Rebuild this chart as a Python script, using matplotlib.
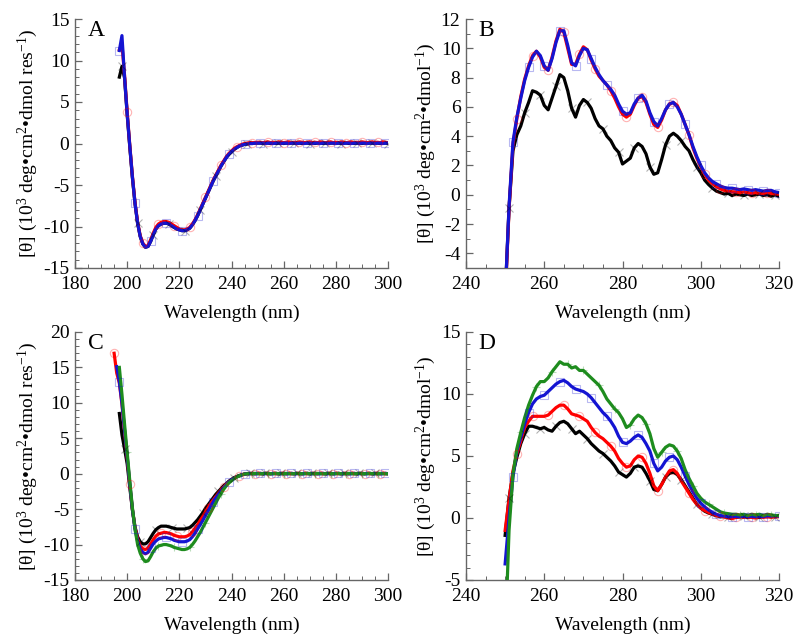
import numpy as np
import matplotlib
matplotlib.use("Agg")
import matplotlib.pyplot as plt
from matplotlib.ticker import MultipleLocator

plt.rcParams['font.family'] = ['Liberation Serif', 'DejaVu Serif']
plt.rcParams['mathtext.fontset'] = 'custom'
plt.rcParams['mathtext.rm'] = 'Liberation Serif'
plt.rcParams['mathtext.it'] = 'Liberation Serif:italic'
plt.rcParams['axes.unicode_minus'] = False

# ---------------- Panel A (far-UV) ----------------
wl_A = np.arange(197, 301)
black_A = [8.0, 9.3, 7.9, 3.5, -0.4, -4.1, -7.2, -9.6, -11.2, -12.1, -12.5, -12.4, -11.8, -11.0,
           -10.3, -9.9, -9.7, -9.6, -9.6, -9.7, -9.9, -10.1, -10.3, -10.4, -10.5, -10.5, -10.4,
           -10.2, -9.8, -9.3, -8.7, -8.0, -7.3, -6.6, -5.9, -5.2, -4.5, -3.9, -3.3, -2.7, -2.2,
           -1.7, -1.3, -1.0, -0.7, -0.5, -0.3, -0.2, -0.1, -0.05, 0.0, 0.0, 0.05, 0.05,
           0.05, 0.0, 0.05, 0.05, 0.0, 0.05, 0.0, 0.05, 0.05, 0.0, 0.05, 0.0, 0.05, 0.05, 0.0,
           0.05, 0.0, 0.05, 0.05, 0.0, 0.05, 0.0, 0.05, 0.05, 0.0, 0.05, 0.0, 0.05, 0.05, 0.0,
           0.05, 0.0, 0.05, 0.05, 0.0, 0.05, 0.0, 0.05, 0.05, 0.0, 0.05, 0.0, 0.05, 0.05, 0.0,
           0.05, 0.0, 0.05, 0.05, 0.0]
red_A = [11.3, 12.0, 8.2, 3.8, -0.2, -3.9, -7.1, -9.5, -11.1, -12.0, -12.4, -12.3, -11.6, -10.8,
         -10.1, -9.7, -9.5, -9.4, -9.4, -9.5, -9.7, -9.9, -10.1, -10.3, -10.4, -10.4, -10.3,
         -10.1, -9.7, -9.2, -8.6, -7.9, -7.2, -6.5, -5.8, -5.1, -4.4, -3.8, -3.2, -2.6, -2.1,
         -1.6, -1.2, -0.9, -0.6, -0.4, -0.25, -0.1, 0.0, 0.05, 0.1, 0.1, 0.1, 0.15,
         0.15, 0.1, 0.15, 0.2, 0.1, 0.15, 0.1, 0.2, 0.15, 0.1, 0.15, 0.2, 0.1, 0.15, 0.1,
         0.2, 0.15, 0.1, 0.15, 0.2, 0.1, 0.15, 0.1, 0.2, 0.15, 0.1, 0.15, 0.2, 0.1, 0.15,
         0.1, 0.2, 0.15, 0.1, 0.15, 0.2, 0.1, 0.15, 0.1, 0.2, 0.15, 0.1, 0.15, 0.2, 0.1,
         0.15, 0.1, 0.2, 0.15, 0.1]
blue_A = [11.2, 13.0, 8.0, 3.6, -0.3, -4.0, -7.2, -9.6, -11.2, -12.1, -12.5, -12.4, -11.8, -11.0,
          -10.3, -9.9, -9.7, -9.6, -9.6, -9.7, -9.9, -10.1, -10.3, -10.4, -10.5, -10.5, -10.4,
          -10.2, -9.8, -9.3, -8.7, -8.0, -7.3, -6.6, -5.9, -5.2, -4.5, -3.9, -3.3, -2.7, -2.2,
          -1.7, -1.3, -1.0, -0.7, -0.5, -0.3, -0.2, -0.1, -0.05, 0.0, 0.0, 0.05, 0.05,
          0.05, 0.05, 0.0, 0.05, 0.05, 0.0, 0.05, 0.05, 0.0, 0.05, 0.05, 0.0, 0.05, 0.05, 0.0,
          0.05, 0.05, 0.0, 0.05, 0.05, 0.0, 0.05, 0.05, 0.0, 0.05, 0.05, 0.0, 0.05, 0.05, 0.0,
          0.05, 0.05, 0.0, 0.05, 0.05, 0.0, 0.05, 0.05, 0.0, 0.05, 0.05, 0.0, 0.05, 0.05, 0.0,
          0.05, 0.05, 0.0, 0.05, 0.05]

# ---------------- Panel B (near-UV) ----------------
wl_B = np.arange(250, 321)
black_B = [-7.0, -0.9, 3.0, 4.1, 4.7, 5.6, 6.3, 7.1, 7.0, 6.8, 6.1, 5.8, 6.6, 7.4, 8.2, 8.0, 7.1,
           5.9, 5.3, 6.1, 6.5, 6.3, 5.9, 5.2, 4.7, 4.5, 4.0, 3.7, 3.2, 2.9, 2.1, 2.3, 2.5, 3.2,
           3.5, 3.3, 2.8, 1.9, 1.4, 1.5, 2.4, 3.4, 4.0, 4.2, 4.0, 3.7, 3.3, 3.0, 2.4, 1.9, 1.5,
           1.0, 0.7, 0.45, 0.25, 0.15, 0.05, 0.1, -0.05, 0.05, 0.0, -0.05, 0.05, -0.05, 0.0,
           0.05, -0.05, 0.0, -0.1, 0.0, -0.1]
red_B = [-7.2, -1.0, 3.4, 5.2, 6.7, 7.9, 8.8, 9.5, 9.8, 9.4, 8.7, 8.5, 9.4, 10.5, 11.3, 11.1,
         10.0, 8.9, 8.9, 9.6, 10.1, 9.9, 9.2, 8.6, 8.1, 7.8, 7.5, 7.1, 6.6, 6.0, 5.5, 5.3, 5.5,
         6.1, 6.6, 6.7, 6.3, 5.5, 4.8, 4.6, 5.1, 5.8, 6.2, 6.3, 6.1, 5.5, 4.8, 4.1, 3.2, 2.5,
         1.9, 1.4, 1.0, 0.75, 0.55, 0.4, 0.3, 0.25, 0.2, 0.2, 0.15, 0.2, 0.15, 0.1, 0.15, 0.1,
         0.1, 0.15, 0.1, 0.05, 0.05]
blue_B = [-7.0, -0.8, 3.6, 5.3, 6.6, 7.8, 8.7, 9.4, 9.8, 9.5, 8.8, 8.5, 9.3, 10.4, 11.2, 11.2,
          10.2, 9.0, 8.8, 9.5, 10.0, 9.9, 9.3, 8.7, 8.2, 7.8, 7.5, 7.2, 6.8, 6.2, 5.7, 5.5, 5.6,
          6.2, 6.6, 6.8, 6.4, 5.6, 5.0, 4.7, 5.2, 5.8, 6.2, 6.3, 6.0, 5.5, 4.8, 4.1, 3.3, 2.6,
          2.0, 1.5, 1.15, 0.9, 0.75, 0.6, 0.5, 0.45, 0.45, 0.4, 0.35, 0.4, 0.35, 0.3, 0.35, 0.3,
          0.25, 0.3, 0.3, 0.2, 0.15]

# ---------------- Panel C (far-UV, four samples) ----------------
wl_C = np.arange(195, 301)
nan = np.nan
black_C = [nan, nan, 8.5, 5.5, 3.5, 1.4, -1.9, -5.1, -7.5, -8.9, -9.6, -9.9, -9.9, -9.6, -9.0,
           -8.4, -7.9, -7.6, -7.4, -7.4, -7.4, -7.5, -7.6, -7.7, -7.8, -7.8, -7.8, -7.8, -7.7,
           -7.6, -7.3, -6.9, -6.5, -6.0, -5.5, -4.9, -4.4, -3.9, -3.4, -2.9, -2.5, -2.1, -1.7,
           -1.4, -1.05, -0.8, -0.55, -0.4, -0.25, -0.15, -0.05,
           0.0, 0.05, 0.0, 0.0, 0.05, 0.0, 0.0, 0.05, 0.0, 0.0, 0.05, 0.0, 0.0, 0.05, 0.0, 0.0,
           0.05, 0.0, 0.0, 0.05, 0.0, 0.0, 0.05, 0.0, 0.0, 0.05, 0.0, 0.0, 0.05, 0.0, 0.0, 0.05,
           0.0, 0.0, 0.05, 0.0, 0.0, 0.05, 0.0, 0.0, 0.05, 0.0, 0.0, 0.05, 0.0, 0.0, 0.05, 0.0,
           0.0, 0.05, 0.0, 0.0, 0.05, 0.0, 0.0]
red_C = [17.0, 14.2, 12.8, 9.8, 6.0, 2.3, -1.5, -5.0, -7.6, -9.2, -10.2, -10.6, -10.7, -10.5,
         -9.9, -9.3, -8.8, -8.5, -8.4, -8.3, -8.3, -8.4, -8.5, -8.7, -8.8, -8.9, -8.9, -8.9,
         -8.8, -8.6, -8.2, -7.7, -7.2, -6.6, -6.0, -5.4, -4.8, -4.2, -3.7, -3.2, -2.7, -2.3,
         -1.9, -1.5, -1.2, -0.9, -0.65, -0.45, -0.3, -0.15, -0.05,
         0.0, 0.05, 0.05, 0.0, 0.05, 0.05, 0.0, 0.05, 0.05, 0.0, 0.05, 0.05, 0.0, 0.05, 0.05,
         0.0, 0.05, 0.05, 0.0, 0.05, 0.05, 0.0, 0.05, 0.05, 0.0, 0.05, 0.05, 0.0, 0.05, 0.05,
         0.0, 0.05, 0.05, 0.0, 0.05, 0.05, 0.0, 0.05, 0.05, 0.0, 0.05, 0.05, 0.0, 0.05, 0.05,
         0.0, 0.05, 0.05, 0.0, 0.05, 0.05, 0.0, 0.05, 0.05, 0.0]
blue_C = [nan, 15.1, 13.0, 10.0, 6.2, 2.5, -1.4, -5.0, -7.8, -9.5, -10.6, -11.1, -11.3, -11.1,
          -10.5, -9.9, -9.5, -9.2, -9.1, -9.0, -9.0, -9.1, -9.2, -9.4, -9.5, -9.6, -9.6, -9.6,
          -9.5, -9.3, -8.9, -8.4, -7.8, -7.2, -6.6, -5.9, -5.3, -4.6, -4.0, -3.4, -2.9, -2.4,
          -2.0, -1.6, -1.2, -0.9, -0.65, -0.45, -0.3, -0.15, -0.05,
          0.0, 0.0, 0.05, 0.0, 0.0, 0.05, 0.0, 0.0, 0.05, 0.0, 0.0, 0.05, 0.0, 0.0, 0.05, 0.0,
          0.0, 0.05, 0.0, 0.0, 0.05, 0.0, 0.0, 0.05, 0.0, 0.0, 0.05, 0.0, 0.0, 0.05, 0.0, 0.0,
          0.05, 0.0, 0.0, 0.05, 0.0, 0.0, 0.05, 0.0, 0.0, 0.05, 0.0, 0.0, 0.05, 0.0, 0.0, 0.05,
          0.0, 0.0, 0.05, 0.0, 0.0, 0.05, 0.0]
green_C = [nan, nan, 15.0, 11.2, 7.0, 3.0, -1.0, -4.8, -7.8, -10.0, -11.2, -12.0, -12.4, -12.3,
           -11.7, -11.0, -10.5, -10.2, -10.1, -10.0, -10.0, -10.1, -10.2, -10.4, -10.5, -10.6,
           -10.7, -10.7, -10.6, -10.4, -10.0, -9.5, -8.9, -8.3, -7.6, -6.9, -6.2, -5.5, -4.8,
           -4.1, -3.4, -2.8, -2.2, -1.7, -1.3, -1.0, -0.7, -0.45, -0.3, -0.15, -0.05,
           0.0, 0.0, 0.0, 0.05, 0.0, 0.0, 0.0, 0.05, 0.0, 0.0, 0.0, 0.05, 0.0, 0.0, 0.0, 0.05,
           0.0, 0.0, 0.0, 0.05, 0.0, 0.0, 0.0, 0.05, 0.0, 0.0, 0.0, 0.05, 0.0, 0.0, 0.0, 0.05,
           0.0, 0.0, 0.0, 0.05, 0.0, 0.0, 0.0, 0.05, 0.0, 0.0, 0.0, 0.05, 0.0, 0.0, 0.0, 0.05,
           0.0, 0.0, 0.0, 0.05, 0.0, 0.0, 0.0]

# ---------------- Panel D (near-UV, four samples) ----------------
wl_D = np.arange(250, 321)
black_D = [-1.4, 1.6, 3.6, 4.9, 6.0, 6.8, 7.4, 7.4, 7.3, 7.2, 7.3, 7.1, 7.0, 7.4, 7.7, 7.8, 7.6,
           7.2, 6.8, 7.0, 6.7, 6.4, 6.0, 5.7, 5.4, 5.2, 4.9, 4.6, 4.2, 3.7, 3.5, 3.3, 3.6, 4.1,
           4.2, 4.1, 3.6, 3.0, 2.3, 2.2, 2.7, 3.3, 3.6, 3.7, 3.5, 3.1, 2.6, 2.1, 1.6, 1.1, 0.8,
           0.55, 0.4, 0.3, 0.2, 0.1, 0.1, 0.05, 0.1, 0.05, 0.1, 0.15, 0.05, 0.1, 0.1, 0.05,
           0.15, 0.1, 0.2, 0.1, 0.15]
red_D = [-1.0, 1.5, 3.8, 5.2, 6.2, 7.3, 7.8, 8.2, 8.2, 8.2, 8.2, 8.3, 8.6, 8.9, 9.1, 9.1, 8.8,
         8.4, 8.3, 8.2, 8.0, 7.8, 7.3, 6.9, 6.6, 6.4, 6.1, 5.8, 5.4, 4.8, 4.4, 4.1, 4.2, 4.7,
         5.0, 4.9, 4.4, 3.6, 2.6, 2.2, 2.7, 3.3, 3.8, 3.9, 3.6, 3.0, 2.5, 2.0, 1.5, 1.1, 0.8,
         0.6, 0.45, 0.3, 0.2, 0.15, 0.1, 0.0, -0.05, 0.05, 0.1, 0.05, 0.1, 0.05, 0.0, 0.1,
         0.05, 0.1, 0.05, 0.1, 0.1]
blue_D = [-3.7, 0.0, 3.3, 5.4, 6.5, 7.6, 8.5, 9.2, 9.6, 9.8, 9.9, 10.2, 10.5, 10.8, 11.0, 11.1,
          10.9, 10.6, 10.4, 10.3, 10.2, 10.0, 9.7, 9.3, 8.9, 8.5, 8.2, 7.8, 7.3, 6.6, 6.1, 6.0,
          6.2, 6.5, 6.7, 6.5, 6.0, 5.4, 4.4, 3.8, 4.1, 4.6, 4.9, 5.0, 4.7, 4.1, 3.4, 2.7, 2.1,
          1.6, 1.2, 0.9, 0.65, 0.45, 0.3, 0.2, 0.15, 0.1, 0.1, 0.15, 0.1, 0.15, 0.1, 0.15, 0.1,
          0.15, 0.1, 0.2, 0.15, 0.2, 0.15]
green_D = [-10.0, -1.0, 3.5, 5.6, 6.9, 8.1, 9.1, 9.9, 10.6, 11.0, 11.0, 11.3, 11.8, 12.2, 12.6,
           12.4, 12.4, 12.1, 12.2, 11.9, 11.9, 11.6, 11.3, 11.0, 10.7, 10.2, 9.6, 9.2, 8.8, 8.5,
           8.0, 7.3, 7.5, 8.0, 8.3, 8.1, 7.6, 6.8, 5.6, 4.9, 5.3, 5.7, 5.9, 5.8, 5.4, 4.8, 3.9,
           3.2, 2.6, 2.0, 1.6, 1.3, 1.1, 0.9, 0.7, 0.5, 0.4, 0.35, 0.3, 0.3, 0.25, 0.3, 0.2,
           0.3, 0.25, 0.3, 0.2, 0.3, 0.25, 0.2, 0.2]

# ---------------- styling ----------------
C_BLACK = '#000000'
C_RED = '#ff0000'
C_BLUE = '#1414d2'
C_GREEN = '#1e8c1e'
SPINE = '#666666'

ylab_res = '[θ] (10$^{3}$ deg•cm$^{2}$•dmol res$^{-1}$)'
ylab_mol = '[θ] (10$^{3}$ deg•cm$^{2}$•dmol$^{-1}$)'

fig = plt.figure(figsize=(8, 6.38), dpi=100)
W, H = 800.0, 638.0


def make_ax(x0, ytop, x1, ybot):
    return fig.add_axes([x0 / W, 1 - ybot / H, (x1 - x0) / W, (ybot - ytop) / H])


def style(ax, xlim, ylim, xmaj, xmin, ymaj, ymin, ylabel, letter):
    ax.set_xlim(*xlim)
    ax.set_ylim(*ylim)
    ax.xaxis.set_major_locator(MultipleLocator(xmaj))
    ax.xaxis.set_minor_locator(MultipleLocator(xmin))
    ax.yaxis.set_major_locator(MultipleLocator(ymaj))
    ax.yaxis.set_minor_locator(MultipleLocator(ymin))
    for s in ['top', 'right']:
        ax.spines[s].set_visible(False)
    for s in ['left', 'bottom']:
        ax.spines[s].set_color(SPINE)
        ax.spines[s].set_linewidth(1.0)
    ax.tick_params(which='both', direction='in', color=SPINE, labelsize=14)
    ax.tick_params(axis='x', which='both', pad=6)
    ax.tick_params(axis='y', which='both', pad=4)
    ax.tick_params(which='major', length=5, width=0.9)
    ax.tick_params(which='minor', length=3, width=0.7)
    ax.set_xlabel('Wavelength (nm)', fontsize=14, labelpad=8)
    ax.set_ylabel(ylabel, fontsize=14, labelpad=2)
    ax.text(0.04, 0.995, letter, transform=ax.transAxes, fontsize=17, va='top', ha='left')


def trace(ax, x, y, color, marker, step, offset=0):
    x = np.asarray(x, dtype=float)
    y = np.asarray(y, dtype=float)
    ax.plot(x, y, color=color, lw=2.3, solid_joinstyle='round', zorder=3)
    ax.plot(x[offset::step], y[offset::step], ls='none', marker=marker, ms=6,
            mfc='none', mec=color, mew=0.8, alpha=0.3, zorder=4)


axA = make_ax(75, 19, 388, 268)
trace(axA, wl_A, black_A, C_BLACK, 'x', 6, 1)
trace(axA, wl_A, red_A, C_RED, 'o', 6, 3)
trace(axA, wl_A, blue_A, C_BLUE, 's', 6, 0)
style(axA, (180, 300), (-15, 15), 20, 5, 5, 1, ylab_res, 'A')

axB = make_ax(466, 19, 779, 268)
trace(axB, wl_B, black_B, C_BLACK, 'x', 4, 1)
trace(axB, wl_B, red_B, C_RED, 'o', 4, 3)
trace(axB, wl_B, blue_B, C_BLUE, 's', 4, 2)
style(axB, (240, 320), (-5, 12), 20, 5, 2, 1, ylab_mol, 'B')

axC = make_ax(75, 332, 388, 580)
trace(axC, wl_C, black_C, C_BLACK, 'x', 6, 4)
trace(axC, wl_C, red_C, C_RED, 'o', 6, 0)
trace(axC, wl_C, blue_C, C_BLUE, 's', 6, 2)
trace(axC, wl_C, green_C, C_GREEN, '+', 6, 5)
style(axC, (180, 300), (-15, 20), 20, 5, 5, 1, ylab_res, 'C')

axD = make_ax(466, 332, 779, 580)
trace(axD, wl_D, black_D, C_BLACK, 'x', 4, 1)
trace(axD, wl_D, red_D, C_RED, 'o', 4, 3)
trace(axD, wl_D, blue_D, C_BLUE, 's', 4, 2)
trace(axD, wl_D, green_D, C_GREEN, '+', 4, 0)
style(axD, (240, 320), (-5, 15), 20, 5, 5, 1, ylab_mol, 'D')

fig.savefig('out.png', dpi=100)
